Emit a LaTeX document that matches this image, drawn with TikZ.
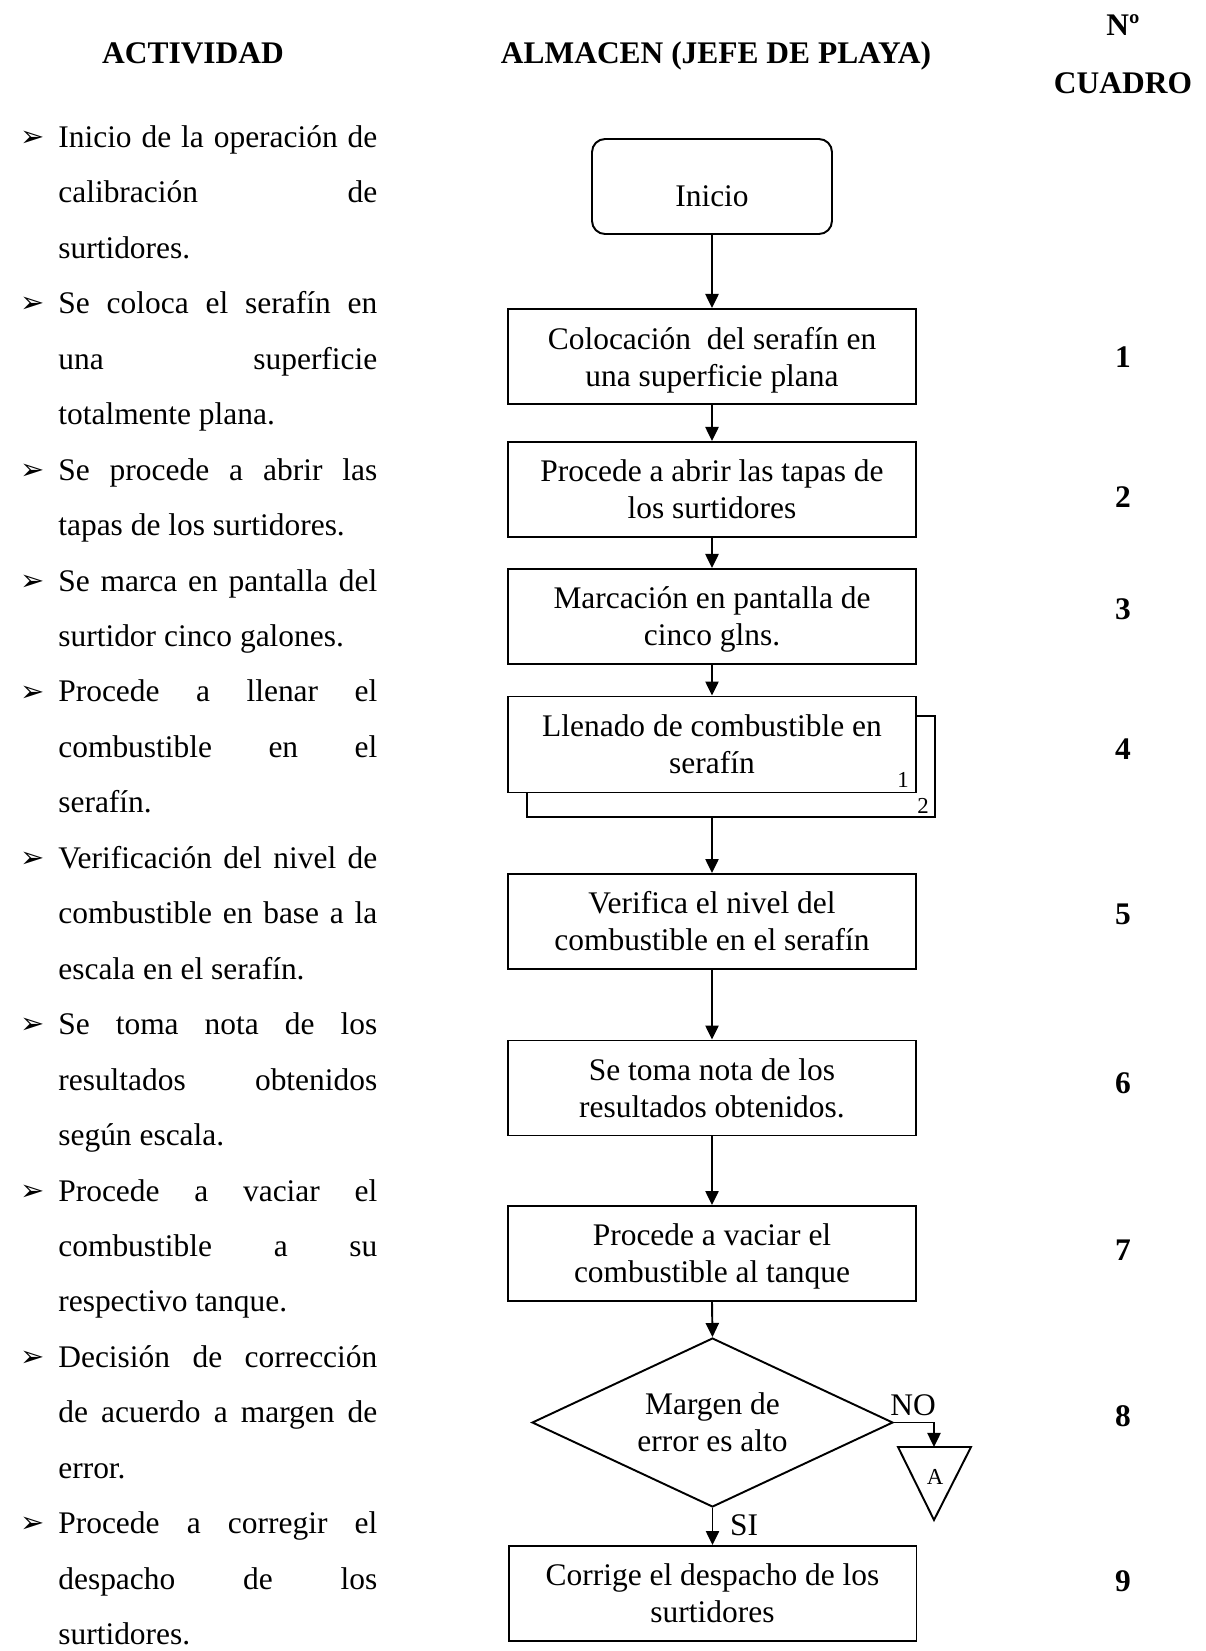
\documentclass[tikz,border=0pt]{standalone}
\usepackage{fontspec}
\setmainfont{Liberation Serif}
\newfontfamily\symfont{DejaVu Sans}
\usetikzlibrary{arrows.meta,shapes.geometric}

% one drawing unit = 0.02cm
\newlength{\pxu}\setlength{\pxu}{0.02cm}
\newlength{\colw}\setlength{\colw}{319\pxu}
% justified line, bullet mark, line without descender depth
\newcommand{\jl}[1]{\makebox[\colw][s]{#1}\\}
\newcommand{\bul}{\leavevmode\llap{\makebox[38\pxu][l]{\raisebox{0.5pt}{\fontsize{16.5}{16.5}\selectfont\symfont ➢}}}}
\newcommand{\nodp}[1]{\raisebox{0pt}[\height][0pt]{#1}}

\tikzset{
  txt/.style={font=\fontsize{17.9}{21}\selectfont},
  head/.style={font=\fontsize{17.9}{21}\selectfont\bfseries, inner sep=0pt, anchor=base},
  num/.style={font=\fontsize{17.9}{21}\selectfont\bfseries, inner sep=0pt},
  procbox/.style={draw, line width=1.1pt, rectangle, fill=white,
    minimum width=8.16cm, minimum height=1.9cm, align=center, inner sep=0pt, txt},
  startbox/.style={procbox, rounded corners=0.26cm, minimum width=4.8cm},
  decision/.style={draw, line width=1.1pt, diamond, aspect=2.14,
    minimum width=7.22cm, minimum height=3.38cm, inner sep=0pt, align=center, txt},
  flow/.style={line width=1.1pt, -{Triangle[length=8pt,width=7.5pt]}},
  small/.style={font=\fontsize{13}{13}\selectfont, inner sep=0pt},
  lbl/.style={txt, inner sep=0pt, anchor=base}
}

\begin{document}
\begin{tikzpicture}[x=0.02cm, y=-0.02cm]
\useasboundingbox[fill=white] (0,0) rectangle (1205,1651);

% column headings
\node[head] (hAct) at (193,63) {ACTIVIDAD};
\node[head] (hAlm) at (716,63) {ALMACEN (JEFE DE PLAYA)};
\node[head] (hNo)  at (1123,35) {Nº};
\node[head] (hCua) at (1123,93) {CUADRO};

% activity list
\node[anchor=base west, inner sep=0pt] (act) at (58,147.5) {\parbox[t]{\colw}{\fontsize{17.9}{31.56}\selectfont
\bul\jl{Inicio de la operación de}
\jl{calibración de}
surtidores.\\
\bul\jl{Se coloca el serafín en}
\jl{una superficie}
totalmente plana.\\
\bul\jl{Se procede a abrir las}
tapas de los surtidores.\\
\bul\jl{Se marca en pantalla del}
surtidor cinco galones.\\
\bul\jl{Procede a llenar el}
\jl{combustible en el}
serafín.\\
\bul\jl{Verificación del nivel de}
\jl{combustible en base a la}
escala en el serafín.\\
\bul\jl{Se toma nota de los}
\jl{resultados obtenidos}
según escala.\\
\bul\jl{Procede a vaciar el}
\jl{combustible a su}
respectivo tanque.\\
\bul\jl{Decisión de corrección}
\jl{de acuerdo a margen de}
error.\\
\bul\jl{Procede a corregir el}
\jl{despacho de los}
surtidores.}};

% flowchart
\node[startbox] (start) at (712,186.5) {\rule{0pt}{40.5\pxu}Inicio};
\node[procbox] (b1) at (712,356.5) {Colocación \ del serafín en\\\nodp{una superficie plana}};
\node[procbox] (b2) at (712,489.5) {Procede a abrir las tapas de\\los surtidores};
\node[procbox] (b3) at (712,616.5) {Marcación en pantalla de\\\nodp{cinco glns.}};
\node[procbox, minimum height=2.02cm] (b4back) at (731,766.5) {};
\node[procbox, minimum height=1.92cm] (b4) at (712,744.5) {Llenado de combustible en\\serafín};
\node[small] (b4n1) at (903,780) {1};
\node[small] (b4n2) at (923,806) {2};
\node[procbox] (b5) at (712,921.5) {Verifica el nivel del\\combustible en el serafín};
\node[procbox] (b6) at (712,1088) {Se toma nota de los\\resultados obtenidos.};
\node[procbox] (b7) at (712,1253.5) {Procede a vaciar el\\\nodp{combustible al tanque}};
\node[decision] (dec) at (712.5,1422.5) {Margen de\\error es alto};
\node[procbox] (b9) at (712.5,1593.5) {Corrige el despacho de los\\surtidores};

% off-page connector
\coordinate (conTop) at (934,1447);
\draw[line width=1.1pt] (898,1447) -- (971,1447) -- (934,1520) -- cycle;
\node[small] (conA) at (935,1477) {A};

% connectors
\draw[flow] (start.south) -- (b1.north);
\draw[flow] (b1.south) -- (b2.north);
\draw[flow] (b2.south) -- (b3.north);
\draw[flow] (b3.south) -- (b4.north);
\draw[flow] (b4.center |- b4back.south) -- (b5.north);
\draw[flow] (b5.south) -- (b6.north);
\draw[flow] (b6.south) -- (b7.north);
\draw[flow] (b7.south) -- (dec.north);
\draw[flow] (dec.south) -- (b9.north);
\draw[flow] (dec.east) -| (conTop);
\node[lbl] (lNo) at (913,1415) {NO};
\node[lbl] (lSi) at (744,1535) {SI};

% box numbers
\node[num] (n1) at (1123,357) {1};
\node[num] (n2) at (1123,497) {2};
\node[num] (n3) at (1123,609) {3};
\node[num] (n4) at (1123,749) {4};
\node[num] (n5) at (1123,914) {5};
\node[num] (n6) at (1123,1083) {6};
\node[num] (n7) at (1123,1250) {7};
\node[num] (n8) at (1123,1416) {8};
\node[num] (n9) at (1123,1581) {9};
\end{tikzpicture}
\end{document}
